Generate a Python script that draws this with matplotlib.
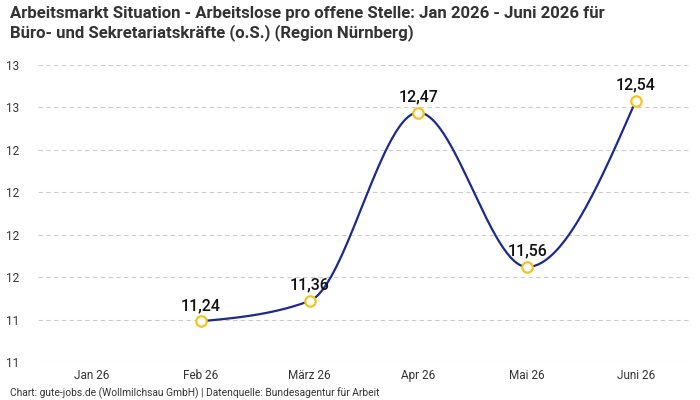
import numpy as np
import matplotlib
matplotlib.use("Agg")
import matplotlib.pyplot as plt
from matplotlib.ticker import FuncFormatter
import math

plt.rcParams['font.family'] = ['Roboto', 'DejaVu Sans']

months = ["Jan 26", "Feb 26", "März 26", "Apr 26", "Mai 26", "Juni 26"]
# Jan has no value
values = [None, 11.24, 11.36, 12.47, 11.56, 12.54]
labels = ["11,24", "11,36", "12,47", "11,56", "12,54"]
yticks = [11.0, 11.25, 11.5, 11.75, 12.0, 12.25, 12.5, 12.75]

title = ("Arbeitsmarkt Situation - Arbeitslose pro offene Stelle: Jan 2026 - Juni 2026 für\n"
         "Büro- und Sekretariatskräfte (o.S.) (Region Nürnberg)")
source = "Chart: gute-jobs.de (Wollmilchsau GmbH) | Datenquelle: Bundesagentur für Arbeit"

LINE = "#1b2a8c"
GOLD = "#f7c21b"
TXT = "#333333"


def monotone_curve(x, y, n=60):
    # monotone cubic (like d3 curveMonotoneX), only for drawing the smooth line
    x = np.asarray(x, float)
    y = np.asarray(y, float)
    h = np.diff(x)
    s = np.diff(y) / h
    t = np.zeros(len(x))
    for i in range(1, len(x) - 1):
        p = (s[i - 1] * h[i] + s[i] * h[i - 1]) / (h[i - 1] + h[i])
        t[i] = (np.sign(s[i - 1]) + np.sign(s[i])) * min(abs(s[i - 1]), abs(s[i]), 0.5 * abs(p))
    t[0] = (3 * s[0] - t[1]) / 2
    t[-1] = (3 * s[-1] - t[-2]) / 2
    xs, ys = [], []
    for i in range(len(x) - 1):
        u = np.linspace(0, 1, n)
        h00 = 2 * u**3 - 3 * u**2 + 1
        h10 = u**3 - 2 * u**2 + u
        h01 = -2 * u**3 + 3 * u**2
        h11 = u**3 - u**2
        xs.append(x[i] + u * h[i])
        ys.append(h00 * y[i] + h10 * h[i] * t[i] + h01 * y[i + 1] + h11 * h[i] * t[i + 1])
    return np.concatenate(xs), np.concatenate(ys)


fig = plt.figure(figsize=(7, 4), dpi=100)
ax = fig.add_axes([0.054, 0.095, 0.932, 0.7425])

px = [i for i, v in enumerate(values) if v is not None]
py = [v for v in values if v is not None]
cx, cy = monotone_curve(px, py)
ax.plot(cx, cy, color=LINE, lw=1.6, zorder=3)
ax.plot(px, py, ls="none", marker="o", ms=7.5, mfc="white", mec=GOLD, mew=1.6, zorder=4)
for xi, yi, lab in zip(px, py, labels):
    ax.annotate(lab, (xi, yi), xytext=(0, 6), textcoords="offset points",
                ha="center", va="bottom", fontsize=11.5, fontweight="medium",
                color="#111111", zorder=5)

ax.set_xlim(-0.5, len(months) - 0.5)
ax.set_ylim(11.0, 12.75)
ax.set_xticks(range(len(months)))
ax.set_xticklabels(months)
ax.set_yticks(yticks)
ax.yaxis.set_major_formatter(FuncFormatter(lambda v, p: str(int(math.floor(v + 0.5)))))
ax.tick_params(axis="both", length=0, labelsize=8.5, colors=TXT)
ax.tick_params(axis="y", pad=13)
ax.tick_params(axis="x", pad=5)
ax.grid(axis="y", color="#cccccc", ls=(0, (4, 3)), lw=0.8)
for sp in ax.spines.values():
    sp.set_visible(False)

fig.text(0.014, 0.985, title, ha="left", va="top", fontsize=12.1, fontweight="bold",
         color=TXT, linespacing=1.25)
fig.text(0.014, 0.0165, source, ha="left", va="center", fontsize=7.4, color=TXT)

fig.savefig("out.png", dpi=100)
